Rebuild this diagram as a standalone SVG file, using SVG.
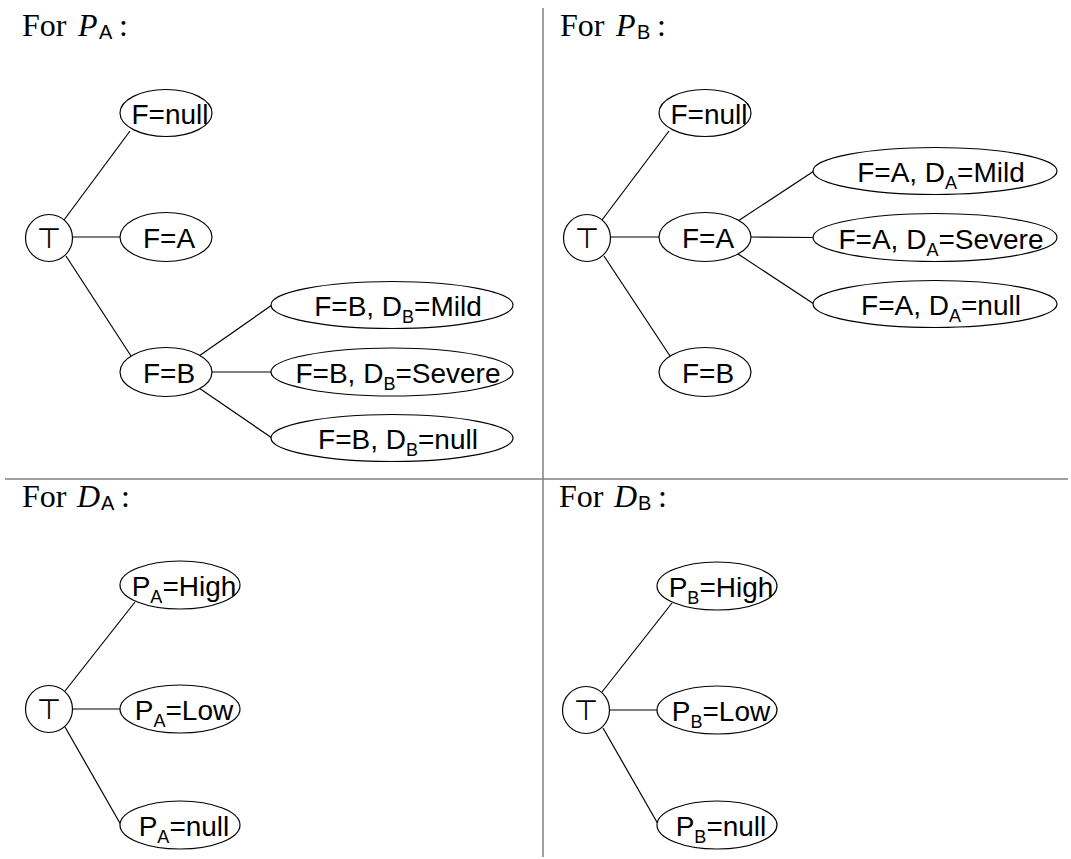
<svg xmlns="http://www.w3.org/2000/svg" width="1071" height="859" viewBox="0 0 1071 859">
<style>
.bg{fill:#fff}
.div{stroke:#808080;stroke-width:1.5;fill:none}
.edge{stroke:#000;stroke-width:1.2;fill:none}
.node{stroke:#000;stroke-width:1.2;fill:#fff}
.lbl{font-family:"Liberation Sans",Arial,sans-serif;font-size:28px;fill:#000;text-anchor:middle}
.sub{font-size:18px}
.top{font-family:"DejaVu Sans",sans-serif;font-size:28px;fill:#000;text-anchor:middle}
.ttl{font-family:"Liberation Serif","Times New Roman",serif;font-size:32px;fill:#000}
.it{font-style:italic}
.ssub{font-family:"Liberation Sans",Arial,sans-serif;font-size:20px}
</style>
<rect class="bg" x="0" y="0" width="1071" height="859"/>
<g id="dividers">
<line class="div" x1="543" y1="8" x2="543" y2="857"/>
<line class="div" x1="5" y1="479" x2="1068" y2="479"/>
</g>
<g id="titles">
<text class="ttl" x="22" y="36">For <tspan class="it" x="78">P</tspan><tspan class="ssub" x="99" dy="3">A</tspan><tspan x="119" dy="-3">:</tspan></text>
<text class="ttl" x="560" y="36">For <tspan class="it" x="616">P</tspan><tspan class="ssub" x="637" dy="3">B</tspan><tspan x="657" dy="-3">:</tspan></text>
<text class="ttl" x="22" y="507">For <tspan class="it" x="77">D</tspan><tspan class="ssub" x="101" dy="3">A</tspan><tspan x="121" dy="-3">:</tspan></text>
<text class="ttl" x="559" y="507">For <tspan class="it" x="614">D</tspan><tspan class="ssub" x="638" dy="3">B</tspan><tspan x="658" dy="-3">:</tspan></text>
</g>
<g id="connectors">
<line class="edge" x1="64" y1="220" x2="130" y2="131"/>
<line class="edge" x1="72" y1="237" x2="121" y2="237"/>
<line class="edge" x1="66" y1="256" x2="131" y2="356"/>
<line class="edge" x1="199" y1="356" x2="272" y2="305"/>
<line class="edge" x1="212" y1="372" x2="272" y2="372"/>
<line class="edge" x1="199" y1="388" x2="272" y2="438"/>
<line class="edge" x1="602" y1="220" x2="669" y2="131"/>
<line class="edge" x1="610" y1="237" x2="660" y2="237"/>
<line class="edge" x1="604" y1="256" x2="670" y2="356"/>
<line class="edge" x1="738" y1="221" x2="814" y2="171"/>
<line class="edge" x1="751" y1="237" x2="814" y2="237.5"/>
<line class="edge" x1="738" y1="254" x2="814" y2="304"/>
<line class="edge" x1="65" y1="691" x2="135" y2="602"/>
<line class="edge" x1="72" y1="709" x2="121" y2="709"/>
<line class="edge" x1="65" y1="727" x2="121" y2="825"/>
<line class="edge" x1="602" y1="692" x2="672" y2="603"/>
<line class="edge" x1="609" y1="710" x2="658" y2="710"/>
<line class="edge" x1="603" y1="728" x2="658" y2="824"/>
</g>
<g id="pa-root"><circle class="node" cx="49" cy="238" r="23.5"/><text class="top" x="49" y="248">⊤</text></g>
<g id="pa-fnull"><ellipse class="node" cx="166" cy="113" rx="46" ry="23.5"/><text class="lbl" x="170" y="124">F=null</text></g>
<g id="pa-fa"><ellipse class="node" cx="166" cy="237" rx="46" ry="24.5"/><text class="lbl" x="169" y="248">F=A</text></g>
<g id="pa-fb"><ellipse class="node" cx="166" cy="372" rx="46" ry="24.5"/><text class="lbl" x="169" y="383">F=B</text></g>
<g id="pa-fb-mild"><ellipse class="node" cx="392" cy="305" rx="121" ry="23.5"/><text class="lbl" x="398" y="316">F=B, D<tspan class="sub" dy="7">B</tspan><tspan dy="-7">=Mild</tspan></text></g>
<g id="pa-fb-severe"><ellipse class="node" cx="392" cy="372" rx="121" ry="24"/><text class="lbl" x="398" y="383">F=B, D<tspan class="sub" dy="7">B</tspan><tspan dy="-7">=Severe</tspan></text></g>
<g id="pa-fb-null"><ellipse class="node" cx="392" cy="438" rx="121" ry="23.5"/><text class="lbl" x="398" y="449">F=B, D<tspan class="sub" dy="7">B</tspan><tspan dy="-7">=null</tspan></text></g>
<g id="pb-root"><circle class="node" cx="587" cy="238" r="23.5"/><text class="top" x="587" y="248">⊤</text></g>
<g id="pb-fnull"><ellipse class="node" cx="705" cy="113" rx="46" ry="23.5"/><text class="lbl" x="709" y="124">F=null</text></g>
<g id="pb-fa"><ellipse class="node" cx="705" cy="237" rx="46" ry="24.5"/><text class="lbl" x="708" y="248">F=A</text></g>
<g id="pb-fb"><ellipse class="node" cx="705" cy="372" rx="46" ry="24.5"/><text class="lbl" x="708" y="383">F=B</text></g>
<g id="pb-fa-mild"><ellipse class="node" cx="935" cy="171" rx="122" ry="23.5"/><text class="lbl" x="941" y="182">F=A, D<tspan class="sub" dy="7">A</tspan><tspan dy="-7">=Mild</tspan></text></g>
<g id="pb-fa-severe"><ellipse class="node" cx="935" cy="237.5" rx="122" ry="24"/><text class="lbl" x="941" y="248.5">F=A, D<tspan class="sub" dy="7">A</tspan><tspan dy="-7">=Severe</tspan></text></g>
<g id="pb-fa-null"><ellipse class="node" cx="935" cy="304" rx="122" ry="23.5"/><text class="lbl" x="941" y="315">F=A, D<tspan class="sub" dy="7">A</tspan><tspan dy="-7">=null</tspan></text></g>
<g id="da-root"><circle class="node" cx="49" cy="709" r="23.5"/><text class="top" x="49" y="719">⊤</text></g>
<g id="da-high"><ellipse class="node" cx="180" cy="585" rx="60" ry="24"/><text class="lbl" x="184" y="596">P<tspan class="sub" dy="7">A</tspan><tspan dy="-7">=High</tspan></text></g>
<g id="da-low"><ellipse class="node" cx="180" cy="709" rx="60" ry="24"/><text class="lbl" x="184" y="720">P<tspan class="sub" dy="7">A</tspan><tspan dy="-7">=Low</tspan></text></g>
<g id="da-null"><ellipse class="node" cx="180" cy="825" rx="60" ry="24"/><text class="lbl" x="184" y="836">P<tspan class="sub" dy="7">A</tspan><tspan dy="-7">=null</tspan></text></g>
<g id="db-root"><circle class="node" cx="586" cy="710" r="23.5"/><text class="top" x="586" y="720">⊤</text></g>
<g id="db-high"><ellipse class="node" cx="717" cy="586" rx="60" ry="24"/><text class="lbl" x="721" y="597">P<tspan class="sub" dy="7">B</tspan><tspan dy="-7">=High</tspan></text></g>
<g id="db-low"><ellipse class="node" cx="717" cy="710" rx="60" ry="24"/><text class="lbl" x="721" y="721">P<tspan class="sub" dy="7">B</tspan><tspan dy="-7">=Low</tspan></text></g>
<g id="db-null"><ellipse class="node" cx="717" cy="825" rx="60" ry="24"/><text class="lbl" x="721" y="836">P<tspan class="sub" dy="7">B</tspan><tspan dy="-7">=null</tspan></text></g>
</svg>
